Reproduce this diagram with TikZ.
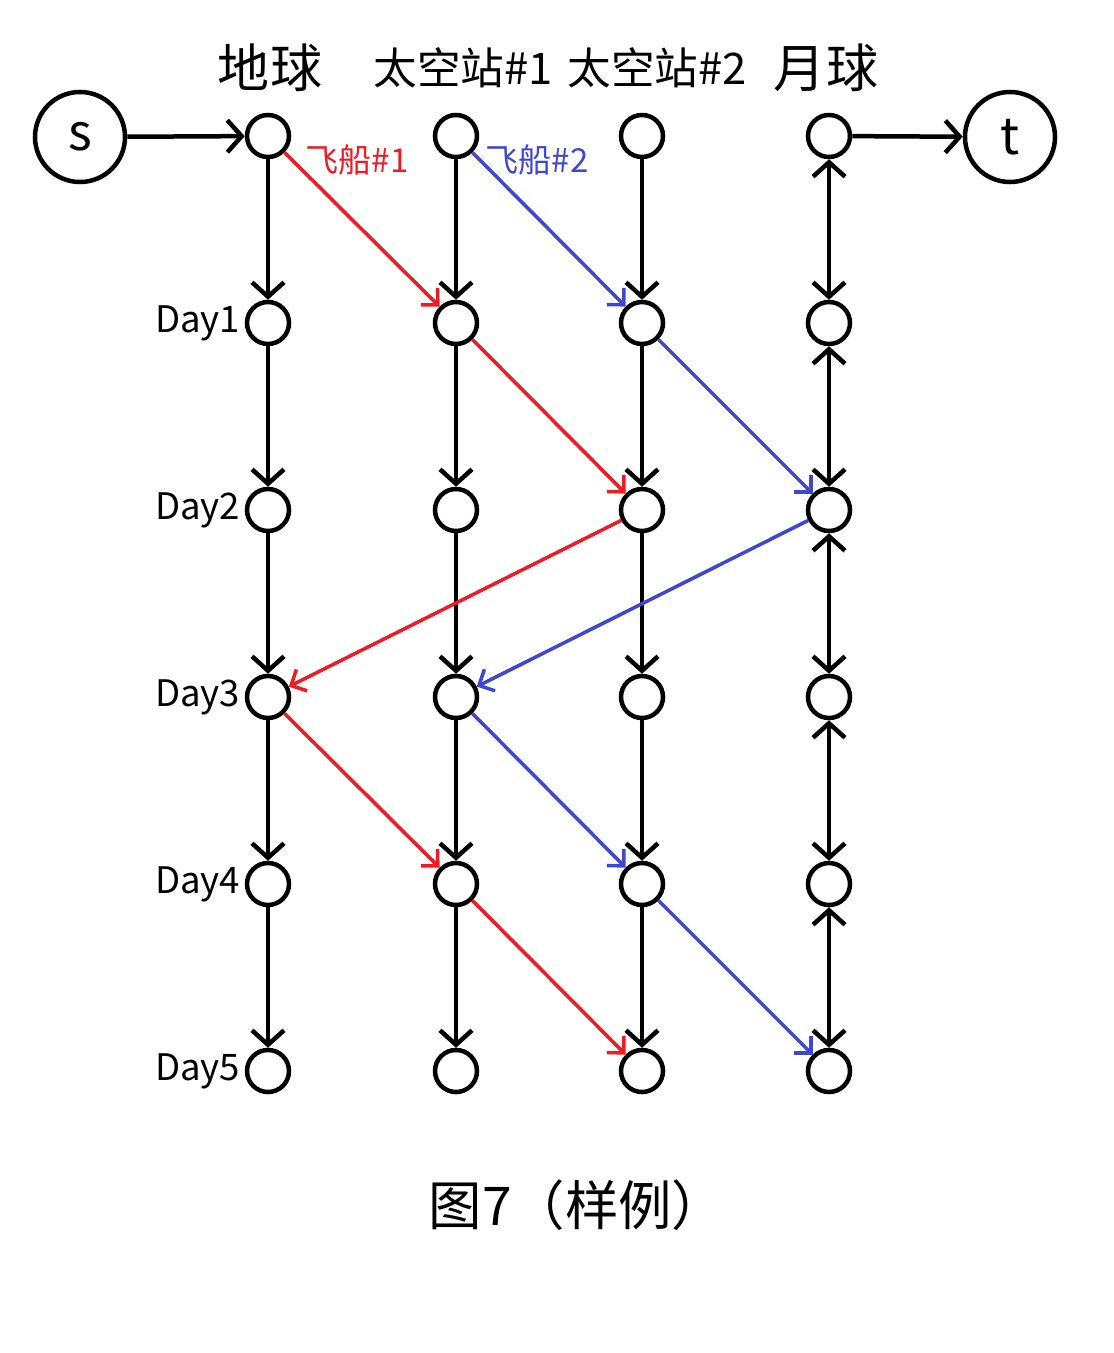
\documentclass[tikz,border=0pt]{standalone}
\usepackage{fontspec}
\setmainfont{Noto Sans CJK SC}
\usetikzlibrary{arrows.meta, positioning}
\definecolor{shipred}{HTML}{ED1C24}
\definecolor{shipblue}{HTML}{3F48CC}

\begin{document}
\begin{tikzpicture}[
    x=0.025cm, y=-0.025cm,
    slot/.style={circle, draw, line width=3.2pt, minimum size=1.05cm, inner sep=0pt},
    term/.style={circle, draw, line width=3.2pt, minimum size=2.25cm, inner sep=0pt,
        font=\fontsize{36}{40}\selectfont},
    head/.style={font=\fontsize{37}{42}\selectfont},
    hsub/.style={font=\fontsize{31}{36}\selectfont},
    daylab/.style={font=\fontsize{26}{30}\selectfont, inner sep=1pt},
    shiplab/.style={font=\fontsize{23.5}{28}\selectfont, inner sep=0pt},
    caplab/.style={font=\fontsize{38}{44}\selectfont},
    flow/.style={-{Straight Barb[length=0.36cm, width=0.8cm]}, line width=3.2pt},
    both/.style={{Straight Barb[length=0.36cm, width=0.8cm]}-{Straight Barb[length=0.36cm, width=0.8cm]}, line width=3.2pt},
    ship/.style={-{Straight Barb[length=0.3cm, width=0.6cm]}, line width=2.5pt}
]
    \useasboundingbox (0,0) rectangle (1113,1353);

    % grid of time slots
    \foreach \c/\x in {e/268, a/456, b/642, m/829}
        \foreach \r in {0,...,5}
            \node[slot] (\c\r) at (\x, {136+187*\r}) {};

    % source and sink
    \node[term] (s) at (80,137) {s};
    \node[term] (t) at (1010,137) {t};

    % column heads
    \node[head] (hE) at (270,68) {地球};
    \node[hsub] (hA) at (463,68) {太空站\#1};
    \node[hsub] (hB) at (657,68) {太空站\#2};
    \node[head] (hM) at (826,68) {月球};

    % day labels
    \foreach \r in {1,...,5}
        \node[daylab, left=2pt of e\r] (d\r) {Day\r};

    % waiting edges
    \draw[flow] (s) -- (e0);
    \draw[flow] (m0) -- (t);
    \foreach \c in {e, a, b}
        \foreach \r [count=\n from 1] in {0,...,4}
            \draw[flow] (\c\r) -- (\c\n);
    \foreach \r [count=\n from 1] in {0,...,4}
        \draw[both] (m\r) -- (m\n);

    % ship routes
    \foreach \a/\b in {e0/a1, a1/b2, b2/e3, e3/a4, a4/b5}
        \draw[ship, shipred] (\a) -- (\b);
    \foreach \a/\b in {a0/b1, b1/m2, m2/a3, a3/b4, b4/m5}
        \draw[ship, shipblue] (\a) -- (\b);
    \node[shiplab, text=shipred] (l1) at (357,160) {飞船\#1};
    \node[shiplab, text=shipblue] (l2) at (537,160) {飞船\#2};

    % caption
    \node[caplab] (capt) at (577,1205) {图7（样例）};
\end{tikzpicture}
\end{document}
